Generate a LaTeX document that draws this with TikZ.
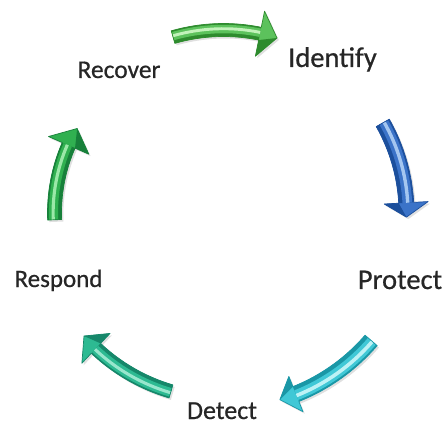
\documentclass[tikz,border=0pt]{standalone}
\usepackage{fontspec}
\setmainfont{Carlito}
\newfontfamily\lblfont{Carlito}[FakeBold=0.6]
\definecolor{txt}{HTML}{262626}
\definecolor{gAdk}{HTML}{2E8B2E}\definecolor{gAmd}{HTML}{5CC25C}\definecolor{gAlt}{HTML}{C2F2BA}
\definecolor{bdk}{HTML}{1C4F9C}\definecolor{bmd}{HTML}{3B73C8}\definecolor{blt}{HTML}{A4C6F0}
\definecolor{cdk}{HTML}{1A97A6}\definecolor{cmd}{HTML}{40C8D6}\definecolor{clt}{HTML}{BDF2F5}
\definecolor{tdk}{HTML}{16876A}\definecolor{tmd}{HTML}{2DBA92}\definecolor{tlt}{HTML}{98E6CD}
\definecolor{gBdk}{HTML}{17803A}\definecolor{gBmd}{HTML}{30B050}\definecolor{gBlt}{HTML}{9BE8A8}
% #1 radius, #2 tail angle, #3 head-base angle, #4 tip angle, #5 shaft half width, #6 head half width
\newcommand{\cycshape}[6]{(#2:{#1+#5}) arc[start angle=#2, end angle=#3, radius={#1+#5}] -- (#3:{#1+#6}) -- (#4:{#1}) -- (#3:{#1-#6}) -- (#3:{#1-#5}) arc[start angle=#3, end angle=#2, radius={#1-#5}] -- cycle}
% #7 dark, #8 mid, #9 light
\newcommand{\cycarrow}[9]{%
  \begin{scope}[shift={(1.8,-2)}]
    \fill[black, opacity=0.12] \cycshape{#1}{#2}{#3}{#4}{#5}{#6};
  \end{scope}
  \begin{scope}
    \clip \cycshape{#1}{#2}{#3}{#4}{#5}{#6};
    \fill[#8] (-260,-260) rectangle (260,260);
    \fill[#7] (#3:{#1-#6}) -- (#4:{#1}) -- (#3:{#1-#5}) -- cycle;
    \draw[#7, line width={2*#5}] (#2:{#1}) arc[start angle=#2, end angle=#3, radius={#1}];
    \draw[#8, line width={1.3*#5}] (#2:{#1+0.15*#5}) arc[start angle=#2, end angle=#3, radius={#1+0.15*#5}];
    \draw[#9, line width={0.45*#5}] (#2:{#1+0.2*#5}) arc[start angle=#2, end angle=#3, radius={#1+0.2*#5}];
  \end{scope}
  \draw[#7, line width=0.7, line join=round] \cycshape{#1}{#2}{#3}{#4}{#5}{#6};
}
\begin{document}
\begin{tikzpicture}[x=1pt,y=1pt,
  lbl/.style={text=txt, inner sep=0pt, anchor=base}]
\useasboundingbox (0,0) rectangle (447,426);
\fill[white] (0,0) rectangle (447,426);
% labels
\node[lbl, font=\lblfont\fontsize{25.5}{30}\selectfont] (recover) at (119,348) {Recover};
\node[lbl, font=\lblfont\fontsize{28.5}{33}\selectfont] (identify) at (332.5,359) {Identify};
\node[lbl, font=\lblfont\fontsize{25}{30}\selectfont] (respond) at (58.5,139) {Respond};
\node[lbl, font=\lblfont\fontsize{28.5}{33}\selectfont] (protect) at (400,137) {Protect};
\node[lbl, font=\lblfont\fontsize{26}{30}\selectfont] (detect) at (222,7) {Detect};
% arrows around the cycle
\begin{scope}[shift={(223.5,213)}]
  \cycarrow{183}{106}{78.5}{73}{6.5}{23}{gAdk}{gAmd}{gAlt}
  \cycarrow{183}{29.5}{3.2}{-1.3}{7.5}{22}{bdk}{bmd}{blt}
  \cycarrow{195}{-40.8}{-68.2}{-73.2}{8}{19}{cdk}{cmd}{clt}
  \cycarrow{186}{-106.4}{-133.3}{-138.6}{6.8}{20.5}{tdk}{tmd}{tlt}
  \cycarrow{169}{182.3}{156.4}{150}{7}{22}{gBdk}{gBmd}{gBlt}
\end{scope}
\end{tikzpicture}
\end{document}
